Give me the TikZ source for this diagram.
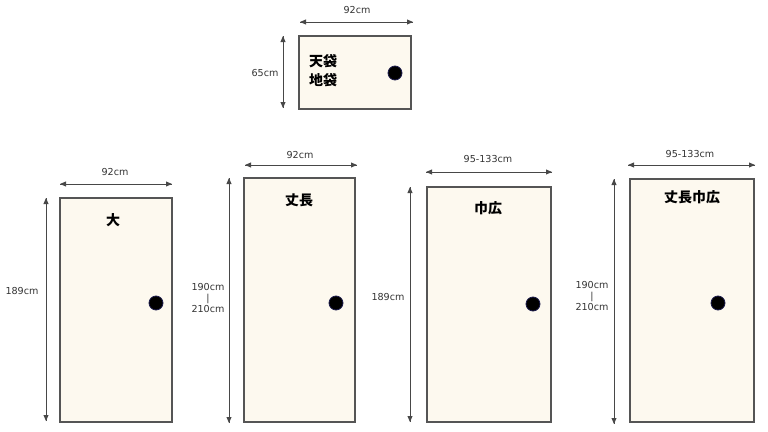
\documentclass[tikz,border=0pt]{standalone}
\usepackage{fontspec}
\setmainfont{DejaVu Sans}
\newfontfamily\jpfont{Noto Sans CJK JP}
\definecolor{doorfill}{HTML}{FDF9EF}
\definecolor{doorline}{HTML}{555555}
\definecolor{dimline}{HTML}{484848}
\definecolor{knobline}{HTML}{1C1C4C}

\begin{document}
\begin{tikzpicture}[x=0.75pt,y=0.75pt,yscale=-1,xscale=1,
  door/.style={draw=doorline,fill=doorfill,line width=0.9},
  dimarrow/.style={draw=dimline,line width=0.6},
  head/.style={fill=dimline,line width=0.08,draw opacity=0},
  dimtext/.style={inner sep=0.75pt,font=\fontsize{7.2}{8.3}\selectfont,text=black!80,align=center},
  doorname/.style={inner sep=0.75pt,font=\jpfont\bfseries\fontsize{10.5}{14}\selectfont,align=center},
  knob/.style={fill=black,draw=knobline,line width=0.6}]
\useasboundingbox (0,0) rectangle (768,432);

%Tenbukuro / Jibukuro
\draw [door] (299,36) rectangle (411,109);
\draw [dimarrow] (300,22) -- (413,22) ;
\draw [shift={(300,22)}, rotate = 0] [head] (6,-2.6) -- (0,0) -- (6,2.6) -- cycle    ;
\draw [shift={(413,22)}, rotate = 180] [head] (6,-2.6) -- (0,0) -- (6,2.6) -- cycle    ;
\draw [dimarrow] (283,36) -- (283,108) ;
\draw [shift={(283,36)}, rotate = 90] [head] (6,-2.6) -- (0,0) -- (6,2.6) -- cycle    ;
\draw [shift={(283,108)}, rotate = 270] [head] (6,-2.6) -- (0,0) -- (6,2.6) -- cycle    ;
\draw [knob] (395,73) circle (7) ;
\draw (357,10) node (tw) [dimtext] {92cm};
\draw (265,73) node (th) [dimtext] {65cm};
\draw (323,70.5) node (tn) [doorname] {天袋\\地袋};

%Dai
\draw [door] (60,198) rectangle (172,422);
\draw [dimarrow] (60,184) -- (172,184) ;
\draw [shift={(60,184)}, rotate = 0] [head] (6,-2.6) -- (0,0) -- (6,2.6) -- cycle    ;
\draw [shift={(172,184)}, rotate = 180] [head] (6,-2.6) -- (0,0) -- (6,2.6) -- cycle    ;
\draw [dimarrow] (46,198) -- (46,421) ;
\draw [shift={(46,198)}, rotate = 90] [head] (6,-2.6) -- (0,0) -- (6,2.6) -- cycle    ;
\draw [shift={(46,421)}, rotate = 270] [head] (6,-2.6) -- (0,0) -- (6,2.6) -- cycle    ;
\draw [knob] (156,303) circle (7) ;
\draw (115,172) node (aw) [dimtext] {92cm};
\draw (22,291) node (ah) [dimtext] {189cm};
\draw (113,220) node (an) [doorname] {大};

%Takenaga
\draw [door] (244,178) rectangle (355,422);
\draw [dimarrow] (245,165) -- (357,165) ;
\draw [shift={(245,165)}, rotate = 0] [head] (6,-2.6) -- (0,0) -- (6,2.6) -- cycle    ;
\draw [shift={(357,165)}, rotate = 180] [head] (6,-2.6) -- (0,0) -- (6,2.6) -- cycle    ;
\draw [dimarrow] (229,178) -- (229,423) ;
\draw [shift={(229,178)}, rotate = 90] [head] (6,-2.6) -- (0,0) -- (6,2.6) -- cycle    ;
\draw [shift={(229,423)}, rotate = 270] [head] (6,-2.6) -- (0,0) -- (6,2.6) -- cycle    ;
\draw [knob] (336,303) circle (7) ;
\draw (300,155) node (bw) [dimtext] {92cm};
\draw (208,298) node (bh) [dimtext] {190cm\\|\\210cm};
\draw (299,200) node (bn) [doorname] {丈長};

%Habahiro
\draw [door] (427,187) rectangle (551,422);
\draw [dimarrow] (426,172) -- (552,172) ;
\draw [shift={(426,172)}, rotate = 0] [head] (6,-2.6) -- (0,0) -- (6,2.6) -- cycle    ;
\draw [shift={(552,172)}, rotate = 180] [head] (6,-2.6) -- (0,0) -- (6,2.6) -- cycle    ;
\draw [dimarrow] (410,187) -- (410,422) ;
\draw [shift={(410,187)}, rotate = 90] [head] (6,-2.6) -- (0,0) -- (6,2.6) -- cycle    ;
\draw [shift={(410,422)}, rotate = 270] [head] (6,-2.6) -- (0,0) -- (6,2.6) -- cycle    ;
\draw [knob] (533,304) circle (7) ;
\draw (488,159) node (cw) [dimtext] {95-133cm};
\draw (388,297) node (ch) [dimtext] {189cm};
\draw (488,208) node (cn) [doorname] {巾広};

%Takenaga habahiro
\draw [door] (630,179) rectangle (754,422);
\draw [dimarrow] (628,165) -- (755,165) ;
\draw [shift={(628,165)}, rotate = 0] [head] (6,-2.6) -- (0,0) -- (6,2.6) -- cycle    ;
\draw [shift={(755,165)}, rotate = 180] [head] (6,-2.6) -- (0,0) -- (6,2.6) -- cycle    ;
\draw [dimarrow] (614,179) -- (614,424) ;
\draw [shift={(614,179)}, rotate = 90] [head] (6,-2.6) -- (0,0) -- (6,2.6) -- cycle    ;
\draw [shift={(614,424)}, rotate = 270] [head] (6,-2.6) -- (0,0) -- (6,2.6) -- cycle    ;
\draw [knob] (718,303) circle (7) ;
\draw (690,154) node (dw) [dimtext] {95-133cm};
\draw (592,296) node (dh) [dimtext] {190cm\\|\\210cm};
\draw (692,197) node (dn) [doorname] {丈長巾広};
\end{tikzpicture}
\end{document}
